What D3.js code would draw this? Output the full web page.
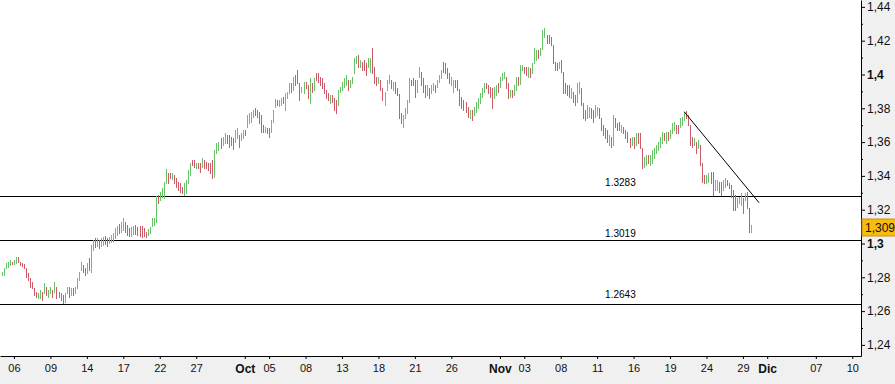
<!DOCTYPE html>
<html>
<head>
<meta charset="utf-8">
<script src="https://cdn.jsdelivr.net/npm/d3@7.9.0/dist/d3.min.js"></script>
<style>
  body { margin: 0; background: #fff; }
  svg { display: block; font-family: "Liberation Sans", Arial, sans-serif; }
</style>
</head>
<body>
<svg id="chart" width="895" height="384"></svg>
<script>
// 4-hour bars [open, high, low, close], 6 per trading day, first bar on Fri Sep 3
const bars = [
  [1.2820,1.2831,1.2814,1.2826],[1.2820,1.2855,1.2814,1.2849],[1.2861,1.2885,1.2855,1.2879],[1.2867,1.2891,1.2861,1.2885],
  [1.2879,1.2902,1.2873,1.2897],[1.2889,1.2891,1.2879,1.2882],[1.2885,1.2902,1.2879,1.2897],[1.2891,1.2920,1.2885,1.2914],
  [1.2914,1.2920,1.2891,1.2897],[1.2887,1.2891,1.2873,1.2879],[1.2881,1.2885,1.2867,1.2873],[1.2873,1.2879,1.2855,1.2861],
  [1.2849,1.2855,1.2802,1.2808],[1.2820,1.2826,1.2784,1.2790],[1.2790,1.2796,1.2743,1.2749],[1.2766,1.2772,1.2737,1.2743],
  [1.2731,1.2737,1.2696,1.2701],[1.2707,1.2713,1.2684,1.2690],[1.2684,1.2707,1.2678,1.2701],[1.2684,1.2725,1.2678,1.2719],
  [1.2707,1.2713,1.2666,1.2672],[1.2713,1.2766,1.2707,1.2760],[1.2737,1.2743,1.2696,1.2701],[1.2690,1.2725,1.2684,1.2719],
  [1.2713,1.2743,1.2707,1.2737],[1.2719,1.2725,1.2684,1.2690],[1.2719,1.2772,1.2713,1.2766],[1.2737,1.2743,1.2678,1.2684],
  [1.2707,1.2713,1.2684,1.2690],[1.2701,1.2707,1.2666,1.2672],[1.2690,1.2696,1.2648,1.2654],[1.2660,1.2707,1.2654,1.2701],
  [1.2713,1.2743,1.2707,1.2737],[1.2737,1.2743,1.2684,1.2690],[1.2701,1.2737,1.2696,1.2731],[1.2731,1.2737,1.2696,1.2701],
  [1.2713,1.2743,1.2707,1.2737],[1.2743,1.2796,1.2737,1.2790],[1.2790,1.2831,1.2784,1.2826],[1.2849,1.2891,1.2843,1.2885],
  [1.2867,1.2873,1.2831,1.2837],[1.2849,1.2855,1.2814,1.2820],[1.2831,1.2885,1.2826,1.2879],[1.2908,1.2914,1.2843,1.2849],
  [1.2837,1.2991,1.2831,1.2985],
  [1.2967,1.3021,1.2962,1.3015],[1.3027,1.3033,1.2979,1.2985],[1.2991,1.3033,1.2985,1.3027],[1.3015,1.3021,1.2973,1.2979],
  [1.2991,1.3033,1.2985,1.3027],[1.2997,1.3038,1.2991,1.3033],[1.3038,1.3044,1.2997,1.3003],[1.3027,1.3033,1.2985,1.2991],
  [1.3009,1.3038,1.3003,1.3033],[1.3015,1.3050,1.3009,1.3044],[1.3021,1.3062,1.3015,1.3056],[1.3038,1.3092,1.3033,1.3086],
  [1.3056,1.3104,1.3050,1.3098],[1.3109,1.3115,1.3062,1.3068],[1.3074,1.3127,1.3068,1.3121],[1.3086,1.3151,1.3080,1.3145],
  [1.3121,1.3127,1.3068,1.3074],[1.3104,1.3109,1.3050,1.3056],[1.3086,1.3092,1.3044,1.3050],[1.3050,1.3098,1.3044,1.3092],
  [1.3062,1.3104,1.3056,1.3098],[1.3104,1.3109,1.3056,1.3062],[1.3092,1.3098,1.3050,1.3056],[1.3098,1.3104,1.3044,1.3050],
  [1.3098,1.3104,1.3038,1.3044],[1.3086,1.3092,1.3044,1.3050],[1.3062,1.3068,1.3038,1.3044],[1.3056,1.3086,1.3050,1.3080],
  [1.3068,1.3098,1.3062,1.3092],[1.3109,1.3151,1.3104,1.3145],[1.3115,1.3151,1.3109,1.3145],[1.3133,1.3281,1.3127,1.3275],
  [1.3281,1.3287,1.3240,1.3246],[1.3263,1.3305,1.3257,1.3299],[1.3281,1.3329,1.3275,1.3323],[1.3275,1.3364,1.3269,1.3358],
  [1.3364,1.3441,1.3358,1.3435],[1.3411,1.3417,1.3358,1.3364],[1.3411,1.3417,1.3388,1.3394],[1.3388,1.3417,1.3382,1.3411],
  [1.3400,1.3405,1.3358,1.3364],[1.3382,1.3388,1.3334,1.3340],[1.3358,1.3364,1.3317,1.3323],[1.3352,1.3358,1.3305,1.3311],
  [1.3329,1.3334,1.3299,1.3305],[1.3293,1.3358,1.3287,1.3352],[1.3305,1.3376,1.3299,1.3370],[1.3364,1.3435,1.3358,1.3429],
  [1.3411,1.3476,1.3405,1.3471],[1.3488,1.3494,1.3465,1.3471],[1.3488,1.3494,1.3453,1.3459],[1.3453,1.3476,1.3447,1.3471],
  [1.3471,1.3476,1.3447,1.3453],[1.3471,1.3476,1.3423,1.3429],[1.3459,1.3506,1.3453,1.3500],[1.3488,1.3494,1.3447,1.3453],
  [1.3476,1.3482,1.3447,1.3453],[1.3471,1.3476,1.3435,1.3441],[1.3471,1.3476,1.3417,1.3423],[1.3488,1.3494,1.3388,1.3394],
  [1.3400,1.3553,1.3394,1.3547],
  [1.3542,1.3595,1.3536,1.3589],[1.3559,1.3601,1.3553,1.3595],[1.3618,1.3624,1.3565,1.3571],[1.3589,1.3630,1.3583,1.3624],
  [1.3601,1.3654,1.3595,1.3648],[1.3636,1.3642,1.3595,1.3601],[1.3636,1.3642,1.3571,1.3577],
  [1.3624,1.3630,1.3583,1.3589],[1.3618,1.3624,1.3559,1.3565],[1.3607,1.3672,1.3601,1.3666],[1.3630,1.3684,1.3624,1.3678],
  [1.3636,1.3642,1.3571,1.3577],[1.3618,1.3654,1.3613,1.3648],[1.3630,1.3672,1.3624,1.3666],[1.3666,1.3672,1.3642,1.3648],
  [1.3695,1.3760,1.3689,1.3755],[1.3719,1.3772,1.3713,1.3766],[1.3725,1.3778,1.3719,1.3772],[1.3755,1.3790,1.3749,1.3784],
  [1.3796,1.3802,1.3760,1.3766],[1.3784,1.3790,1.3749,1.3755],[1.3772,1.3778,1.3713,1.3719],[1.3755,1.3760,1.3660,1.3666],
  [1.3695,1.3701,1.3660,1.3666],[1.3666,1.3689,1.3660,1.3684],[1.3678,1.3684,1.3654,1.3660],[1.3678,1.3684,1.3630,1.3636],
  [1.3666,1.3731,1.3660,1.3725],[1.3725,1.3790,1.3719,1.3784],[1.3814,1.3855,1.3808,1.3849],[1.3843,1.3849,1.3820,1.3826],
  [1.3820,1.3849,1.3814,1.3843],[1.3826,1.3861,1.3820,1.3855],[1.3861,1.3867,1.3831,1.3837],[1.3796,1.3891,1.3790,1.3885],
  [1.3867,1.3897,1.3861,1.3891],[1.3897,1.3950,1.3891,1.3944],[1.3944,1.3950,1.3897,1.3902],[1.3914,1.3985,1.3908,1.3979],
  [1.3991,1.3997,1.3938,1.3944],[1.4021,1.4027,1.3950,1.3956],[1.3944,1.3950,1.3849,1.3855],
  [1.3902,1.3926,1.3897,1.3920],[1.3897,1.3956,1.3891,1.3950],[1.3950,1.3956,1.3920,1.3926],[1.3932,1.3938,1.3861,1.3867],
  [1.3837,1.3979,1.3831,1.3973],[1.3944,1.3950,1.3897,1.3902],[1.3914,1.3979,1.3908,1.3973],[1.4003,1.4009,1.3967,1.3973],
  [1.4003,1.4009,1.3956,1.3962],[1.3979,1.3985,1.3938,1.3944],[1.3973,1.3979,1.3920,1.3926],[1.3944,1.3950,1.3891,1.3897],
  [1.3902,1.3908,1.3861,1.3867],[1.3885,1.3891,1.3849,1.3855],[1.3837,1.3879,1.3831,1.3873],[1.3873,1.3879,1.3837,1.3843],
  [1.3855,1.3861,1.3790,1.3796],[1.3843,1.3849,1.3772,1.3778],[1.3826,1.3908,1.3820,1.3902],[1.3902,1.3926,1.3897,1.3920],
  [1.3914,1.3956,1.3908,1.3950],[1.3932,1.3979,1.3926,1.3973],[1.3944,1.3997,1.3938,1.3991],[1.3962,1.3967,1.3908,1.3914],
  [1.3932,1.3967,1.3926,1.3962],[1.3956,1.3985,1.3950,1.3979],[1.4015,1.4098,1.4009,1.4092],[1.4074,1.4109,1.4068,1.4103],
  [1.4109,1.4115,1.4044,1.4050],[1.4050,1.4086,1.4044,1.4080],[1.4068,1.4074,1.4027,1.4032],[1.4080,1.4086,1.4027,1.4032],
  [1.4062,1.4068,1.3997,1.4003],[1.4050,1.4098,1.4044,1.4092],[1.4021,1.4098,1.4015,1.4092],[1.4086,1.4157,1.4009,1.4015],
  [1.4038,1.4044,1.3950,1.3956],[1.3979,1.3985,1.3938,1.3944],[1.3956,1.3985,1.3950,1.3979],[1.3962,1.3967,1.3908,1.3914],
  [1.3914,1.3920,1.3849,1.3855],[1.3826,1.3897,1.3820,1.3891],[1.3914,1.3967,1.3908,1.3962],[1.3956,1.3997,1.3950,1.3991],
  [1.3962,1.3967,1.3920,1.3926],[1.3914,1.3956,1.3908,1.3950],[1.3950,1.3956,1.3891,1.3897],[1.3914,1.3920,1.3879,1.3885],
  [1.3879,1.3885,1.3743,1.3749],[1.3766,1.3772,1.3713,1.3719],[1.3695,1.3760,1.3689,1.3755],[1.3749,1.3802,1.3743,1.3796],
  [1.3778,1.3849,1.3772,1.3843],[1.3843,1.3979,1.3837,1.3973],[1.3962,1.3967,1.3938,1.3944],[1.3973,1.3979,1.3938,1.3944],
  [1.3962,1.3967,1.3867,1.3873],[1.3902,1.3967,1.3897,1.3962],[1.3991,1.4044,1.3985,1.4038],[1.4009,1.4015,1.3938,1.3944],
  [1.3973,1.3979,1.3897,1.3902],[1.3932,1.3938,1.3867,1.3873],[1.3885,1.3938,1.3879,1.3932],[1.3914,1.3920,1.3861,1.3867],
  [1.3897,1.3938,1.3891,1.3932],[1.3914,1.3950,1.3908,1.3944],[1.3932,1.3938,1.3897,1.3902],[1.3932,1.3967,1.3926,1.3962],
  [1.3962,1.3997,1.3956,1.3991],[1.3985,1.4027,1.3979,1.4021],[1.4068,1.4074,1.4015,1.4021],[1.4062,1.4068,1.4009,1.4015],
  [1.4032,1.4038,1.3979,1.3985],[1.4003,1.4009,1.3950,1.3956],[1.3944,1.3985,1.3938,1.3979],[1.3902,1.3967,1.3897,1.3962],
  [1.3962,1.3967,1.3926,1.3932],[1.3962,1.3967,1.3908,1.3914],[1.3873,1.3914,1.3820,1.3826],[1.3861,1.3867,1.3802,1.3808],
  [1.3843,1.3849,1.3790,1.3796],[1.3831,1.3837,1.3778,1.3784],[1.3802,1.3808,1.3749,1.3755],[1.3749,1.3790,1.3743,1.3784],
  [1.3784,1.3790,1.3731,1.3737],[1.3766,1.3808,1.3760,1.3802],[1.3784,1.3837,1.3778,1.3831],[1.3808,1.3861,1.3802,1.3855],
  [1.3837,1.3891,1.3831,1.3885],[1.3873,1.3920,1.3867,1.3914],[1.3902,1.3950,1.3897,1.3944],[1.3944,1.3950,1.3920,1.3926],
  [1.3932,1.3938,1.3891,1.3897],[1.3920,1.3926,1.3867,1.3873],[1.3914,1.3920,1.3802,1.3808],[1.3867,1.3926,1.3861,1.3920],
  [1.3885,1.3938,1.3879,1.3932],[1.3944,1.3950,1.3897,1.3902],[1.3932,1.3985,1.3926,1.3979],[1.3973,1.4009,1.3967,1.4003],
  [1.3985,1.4015,1.3979,1.4009],[1.3979,1.3985,1.3920,1.3926],[1.3944,1.3950,1.3861,1.3867],[1.3873,1.3908,1.3867,1.3902],
  [1.3902,1.3908,1.3867,1.3873],[1.3885,1.3938,1.3879,1.3932],[1.3914,1.3985,1.3908,1.3979],[1.3979,1.3985,1.3938,1.3944],
  [1.3950,1.4056,1.3944,1.4050],[1.4032,1.4056,1.4027,1.4050],[1.4038,1.4044,1.4009,1.4015],[1.4038,1.4044,1.3997,1.4003],
  [1.3991,1.4044,1.3985,1.4038],[1.4032,1.4038,1.3985,1.3991],[1.4015,1.4068,1.4009,1.4062],[1.4074,1.4157,1.4068,1.4151],
  [1.4092,1.4145,1.4086,1.4139],[1.4139,1.4145,1.4098,1.4103],[1.4121,1.4157,1.4115,1.4151],[1.4169,1.4263,1.4151,1.4257],
  [1.4228,1.4275,1.4222,1.4269],[1.4228,1.4234,1.4186,1.4192],[1.4228,1.4234,1.4186,1.4192],[1.4216,1.4222,1.4175,1.4180],
  [1.4175,1.4175,1.4068,1.4074],[1.4068,1.4074,1.4027,1.4032],[1.4062,1.4068,1.4027,1.4032],[1.4044,1.4074,1.4038,1.4068],
  [1.4080,1.4086,1.4015,1.4021],[1.4015,1.4015,1.3891,1.3897],[1.3944,1.3950,1.3891,1.3897],[1.3932,1.3938,1.3879,1.3885],
  [1.3932,1.3938,1.3867,1.3873],[1.3867,1.3920,1.3861,1.3914],[1.3891,1.3897,1.3837,1.3843],[1.3873,1.3879,1.3820,1.3826],
  [1.3843,1.3950,1.3837,1.3944],[1.3897,1.3956,1.3891,1.3950],[1.3914,1.3920,1.3820,1.3826],[1.3826,1.3831,1.3743,1.3749],
  [1.3784,1.3790,1.3731,1.3737],[1.3749,1.3820,1.3743,1.3814],[1.3755,1.3808,1.3749,1.3802],[1.3796,1.3802,1.3743,1.3749],
  [1.3784,1.3790,1.3719,1.3725],[1.3755,1.3820,1.3749,1.3814],[1.3766,1.3808,1.3760,1.3802],[1.3796,1.3802,1.3743,1.3749],
  [1.3743,1.3743,1.3672,1.3678],[1.3695,1.3701,1.3642,1.3648],[1.3678,1.3684,1.3624,1.3630],[1.3666,1.3672,1.3601,1.3607],
  [1.3589,1.3642,1.3583,1.3636],[1.3624,1.3630,1.3571,1.3577],[1.3589,1.3760,1.3583,1.3749],[1.3737,1.3743,1.3689,1.3695],
  [1.3707,1.3713,1.3672,1.3678],[1.3713,1.3719,1.3672,1.3678],[1.3666,1.3701,1.3660,1.3695],[1.3684,1.3689,1.3654,1.3660],
  [1.3666,1.3672,1.3624,1.3630],[1.3654,1.3660,1.3601,1.3607],[1.3618,1.3624,1.3571,1.3577],[1.3589,1.3630,1.3583,1.3624],
  [1.3624,1.3630,1.3565,1.3571],[1.3589,1.3654,1.3583,1.3648],[1.3648,1.3654,1.3595,1.3601],[1.3648,1.3654,1.3565,1.3571],
  [1.3559,1.3565,1.3447,1.3453],[1.3459,1.3512,1.3453,1.3506],[1.3471,1.3524,1.3465,1.3518],[1.3518,1.3524,1.3476,1.3482],
  [1.3471,1.3524,1.3465,1.3518],[1.3482,1.3553,1.3476,1.3547],[1.3512,1.3565,1.3506,1.3559],[1.3542,1.3583,1.3536,1.3577],
  [1.3559,1.3601,1.3553,1.3595],[1.3577,1.3630,1.3571,1.3624],[1.3601,1.3660,1.3595,1.3654],[1.3648,1.3654,1.3613,1.3618],
  [1.3601,1.3660,1.3595,1.3654],[1.3654,1.3660,1.3613,1.3618],[1.3630,1.3672,1.3624,1.3666],[1.3660,1.3713,1.3654,1.3707],
  [1.3678,1.3719,1.3672,1.3713],[1.3695,1.3701,1.3654,1.3660],[1.3695,1.3701,1.3654,1.3660],[1.3695,1.3743,1.3689,1.3737],
  [1.3707,1.3749,1.3701,1.3743],[1.3737,1.3778,1.3731,1.3772],[1.3778,1.3784,1.3743,1.3749],[1.3755,1.3760,1.3701,1.3707],
  [1.3695,1.3701,1.3583,1.3589],[1.3624,1.3630,1.3571,1.3577],[1.3589,1.3624,1.3583,1.3618],[1.3595,1.3601,1.3536,1.3542],
  [1.3571,1.3613,1.3565,1.3607],[1.3577,1.3583,1.3465,1.3471],[1.3471,1.3476,1.3364,1.3370],[1.3400,1.3405,1.3358,1.3364],
  [1.3364,1.3405,1.3358,1.3400],[1.3370,1.3417,1.3364,1.3411],[1.3417,1.3423,1.3358,1.3364],[1.3417,1.3423,1.3287,1.3293],
  [1.3323,1.3376,1.3317,1.3370],[1.3323,1.3376,1.3317,1.3370],[1.3358,1.3364,1.3305,1.3311],[1.3358,1.3364,1.3287,1.3293],
  [1.3323,1.3376,1.3317,1.3370],[1.3340,1.3388,1.3334,1.3382],[1.3370,1.3376,1.3346,1.3352],[1.3352,1.3358,1.3329,1.3334],
  [1.3340,1.3346,1.3275,1.3281],[1.3311,1.3317,1.3198,1.3204],[1.3281,1.3287,1.3198,1.3204],[1.3222,1.3269,1.3216,1.3263],
  [1.3246,1.3275,1.3240,1.3269],[1.3234,1.3299,1.3228,1.3293],[1.3263,1.3269,1.3180,1.3186],[1.3263,1.3299,1.3257,1.3293],
  [1.3299,1.3305,1.3210,1.3216],[1.3204,1.3210,1.3068,1.3074],[1.3074,1.3109,1.3068,1.3090]
];
const firstBarDay = -1;   // trading-day index of the first bar (Sep 06 = 0)
const barsPerDay = 6;

// horizontal support levels and their labels
const levels = [1.3283, 1.3019, 1.2643];
const levelLabels = ['1.3283', '1.3019', '1.2643'];

// trend line: [bar index, price]
const trendLine = [[337, 1.3780], [374, 1.3241]];

// date axis: trading-day index from Mon Sep 06
const tickDays = [0, 3, 6, 9, 12, 15, 19, 21, 24, 27, 30, 33, 36, 40, 42, 45, 48, 51, 54, 57, 60, 62, 66, 69];
const tickLabels = ['06','09','14','17','22','27','Oct','05','08','13','18','21','26','Nov','03','08','11','16','19','24','29','Dic','07','10'];
const monthLabels = ['Oct', 'Nov', 'Dic'];

// price axis
const priceTicks = [1.24, 1.26, 1.28, 1.3, 1.32, 1.34, 1.36, 1.38, 1.4, 1.42, 1.44];
const boldTicks = [1.3, 1.4];
const lastPrice = 1.309;

const width = 895, height = 384;
const plotW = 861, plotH = 356;

const svg = d3.select('#chart');
svg.append('rect').attr('width', width).attr('height', height).attr('fill', '#f0f0f0');
svg.append('rect').attr('width', plotW).attr('height', plotH).attr('fill', '#fff');

const x = d3.scaleLinear().domain([-1.15, 69.72]).range([0, plotW]);
const y = d3.scaleLinear().domain([1.23343, 1.44408]).range([plotH, 0]);
const barDay = i => firstBarDay + i / barsPerDay;

svg.append('clipPath').attr('id', 'clip')
  .append('rect').attr('width', plotW).attr('height', plotH);

const plot = svg.append('g').attr('clip-path', 'url(#clip)').attr('shape-rendering', 'crispEdges');

// level lines
plot.append('g').selectAll('line')
  .data(levels)
  .join('line')
  .attr('x1', 0).attr('x2', plotW)
  .attr('y1', d => Math.round(y(d)) + 0.5)
  .attr('y2', d => Math.round(y(d)) + 0.5)
  .attr('stroke', '#000');

// OHLC bars (ticks are too small at this density to show, colour carries open/close)
const upColor = '#66c466', downColor = '#cc5a68';
plot.append('g').selectAll('rect')
  .data(bars)
  .join('rect')
  .attr('x', (d, i) => Math.round(x(barDay(i))))
  .attr('y', d => Math.round(y(d[1])))
  .attr('width', 1)
  .attr('height', d => Math.max(1, Math.round(y(d[2])) - Math.round(y(d[1])) + 1))
  .attr('fill', d => d[3] >= d[0] ? upColor : downColor);

// trend line
svg.append('line')
  .attr('x1', x(barDay(trendLine[0][0]))).attr('y1', y(trendLine[0][1]))
  .attr('x2', x(barDay(trendLine[1][0]))).attr('y2', y(trendLine[1][1]))
  .attr('stroke', '#000').attr('stroke-width', 1);

// level labels
const labelOffsets = [13, 7, 9];
svg.append('g').selectAll('text')
  .data(levelLabels)
  .join('text')
  .attr('x', x(50) - 1)
  .attr('y', (d, i) => y(levels[i]) - labelOffsets[i])
  .attr('dy', '0.35em')
  .attr('text-anchor', 'middle')
  .attr('font-size', 10)
  .attr('fill', '#000')
  .text(d => d);

// right price axis
const yAxis = svg.append('g')
  .attr('transform', `translate(${plotW},0)`)
  .call(d3.axisRight(y).tickValues(priceTicks).tickSize(4).tickSizeOuter(0).tickPadding(2)
    .tickFormat(d => String(+d.toFixed(2)).replace('.', ',')));
yAxis.select('.domain').attr('stroke', '#000');
yAxis.selectAll('.tick line').attr('stroke', '#000');
yAxis.selectAll('.tick text')
  .attr('font-size', 12)
  .attr('font-family', '"Liberation Sans", Arial, sans-serif')
  .attr('fill', '#111')
  .attr('font-weight', d => boldTicks.includes(d) ? 'bold' : 'normal');

const minorTicks = priceTicks.slice(0, -1).map(d => d + 0.01);
svg.append('g')
  .attr('transform', `translate(${plotW},0)`)
  .call(d3.axisRight(y).tickValues(minorTicks).tickSize(2).tickFormat(''))
  .call(g => g.select('.domain').remove())
  .selectAll('line').attr('stroke', '#000');

// last price badge
const badge = svg.append('g').attr('transform', `translate(${plotW + 1},${Math.round(y(lastPrice))})`);
badge.append('rect').attr('x', 0).attr('y', -9).attr('width', 40).attr('height', 17)
  .attr('fill', '#f8bb10').attr('stroke', '#c8901a');
badge.append('text').attr('x', 3).attr('y', 0).attr('dy', '0.35em')
  .attr('font-size', 12).attr('fill', '#111')
  .text(String(lastPrice).replace('.', ','));

// bottom date axis
const xAxis = svg.append('g')
  .attr('transform', `translate(0,${plotH})`)
  .call(d3.axisBottom(x).tickValues(tickDays).tickSize(3).tickSizeOuter(0).tickPadding(5)
    .tickFormat((d, i) => tickLabels[i]));
xAxis.select('.domain').attr('stroke', '#000');
xAxis.selectAll('.tick line').attr('stroke', '#000');
xAxis.selectAll('.tick text')
  .attr('font-family', '"Liberation Sans", Arial, sans-serif')
  .attr('fill', '#111')
  .attr('font-weight', (d, i) => monthLabels.includes(tickLabels[i]) ? 'bold' : 'normal')
  .attr('font-size', (d, i) => monthLabels.includes(tickLabels[i]) ? 12 : 11);
</script>
</body>
</html>
